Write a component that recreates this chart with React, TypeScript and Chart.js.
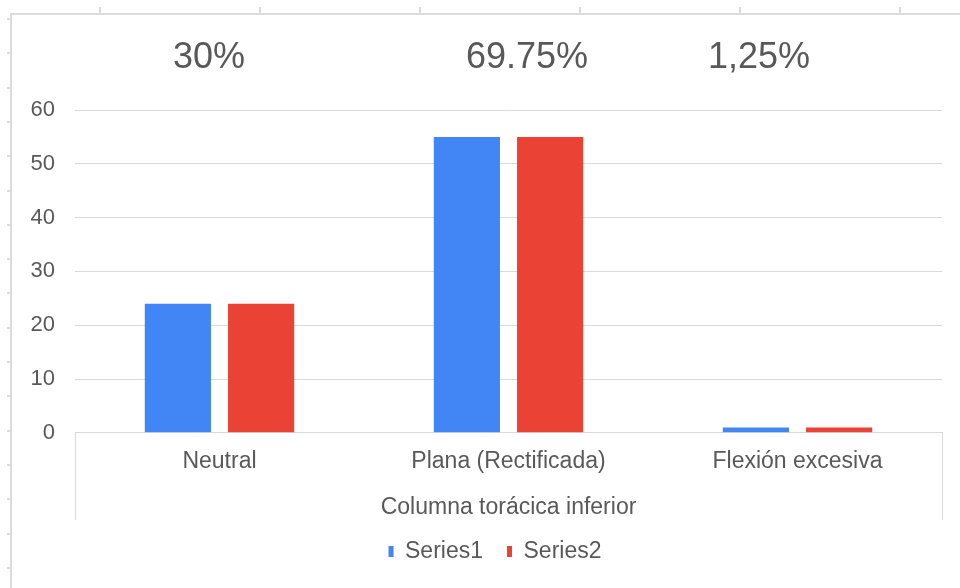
import React, { useEffect, useRef } from "react";
import { Chart, registerables } from "chart.js";

Chart.register(...registerables);

const categories = ["Neutral", "Plana (Rectificada)", "Flexión excesiva"];
const series1 = [24, 55, 1];
const series2 = [24, 55, 1];
const seriesNames = ["Series1", "Series2"];
const seriesColors = ["#4285F4", "#EA4335"];
const axisTitle = "Columna torácica inferior";
const topLabels = ["30%", "69.75%", "1,25%"];
const topLabelCenters = [209, 527, 759];

const FONT = "'Liberation Sans', Arial, Helvetica, sans-serif";
const TEXT = "#595959";
const GRID = "#d9d9d9";

const outerLines = {
  id: "outerLines",
  afterLayout(chart: any) {
    if (chart.legend) {
      chart.legend.left += 10;
      chart.legend.right += 10;
    }
  },
  afterDraw(chart: any) {
    const { ctx, chartArea } = chart;
    const xs = chart.scales.x;
    ctx.save();
    ctx.strokeStyle = GRID;
    ctx.lineWidth = 1;
    ctx.beginPath();
    for (const x of [chartArea.left, chartArea.right]) {
      ctx.moveTo(Math.round(x) + 0.5, chartArea.bottom);
      ctx.lineTo(Math.round(x) + 0.5, xs.bottom + 4);
    }
    ctx.stroke();
    ctx.restore();
  },
};

export default function App() {
  const ref = useRef<HTMLCanvasElement>(null);

  useEffect(() => {
    if (!ref.current) return;
    const chart = new Chart(ref.current, {
      type: "bar",
      data: {
        labels: categories,
        datasets: [
          { label: seriesNames[0], data: series1, backgroundColor: seriesColors[0] },
          { label: seriesNames[1], data: series2, backgroundColor: seriesColors[1] },
        ],
      },
      options: {
        animation: false,
        responsive: false,
        maintainAspectRatio: false,
        devicePixelRatio: 1,
        layout: { padding: { top: 110, left: 28, right: 18, bottom: 15 } },
        datasets: {
          bar: { categoryPercentage: 0.576, barPercentage: 0.795 },
        },
        plugins: {
          legend: {
            position: "bottom",
            labels: {
              boxWidth: 5,
              boxHeight: 11,
              padding: 24,
              color: TEXT,
              font: { family: FONT, size: 23 },
            },
          },
          tooltip: { enabled: false },
          title: { display: false },
        },
        scales: {
          x: {
            grid: { display: false, drawTicks: false },
            border: { display: true, color: GRID, width: 1 },
            ticks: { color: TEXT, padding: 15, font: { family: FONT, size: 23 } },
            title: {
              display: true,
              text: axisTitle,
              color: TEXT,
              font: { family: FONT, size: 23 },
              padding: { top: 3, bottom: -5 },
            },
          },
          y: {
            min: 0,
            max: 60,
            ticks: { stepSize: 10, color: TEXT, padding: 20, font: { family: FONT, size: 22 } },
            grid: { color: GRID, drawTicks: false, lineWidth: 1 },
            border: { display: false },
            afterFit(scale: any) {
              scale.width = 47;
            },
          },
        },
      },
      plugins: [outerLines],
    });
    return () => chart.destroy();
  }, []);

  const leftTicks: number[] = [];
  for (let y = 18; y < 588; y += 34.3) leftTicks.push(Math.round(y));
  const topTicks = [99, 259, 419, 579, 739, 899];

  return (
    <div
      style={{
        position: "fixed",
        left: 0,
        top: 0,
        width: 960,
        height: 588,
        background: "#ffffff",
        overflow: "hidden",
        fontFamily: FONT,
      }}
    >
      <div style={{ position: "absolute", left: 10, top: 13, width: 2, height: 575, background: "#dcdcdc" }} />
      <div style={{ position: "absolute", left: 10, top: 13, width: 950, height: 2, background: "#dcdcdc" }} />
      {topTicks.map((x) => (
        <div key={"t" + x} style={{ position: "absolute", left: x, top: 7, width: 2, height: 7, background: "#dcdcdc" }} />
      ))}
      {leftTicks.map((y) => (
        <div key={"l" + y} style={{ position: "absolute", left: 7, top: y, width: 4, height: 2, background: "#dcdcdc" }} />
      ))}
      <canvas ref={ref} width={960} height={588} style={{ position: "absolute", left: 0, top: 0, width: 960, height: 588 }} />
      {topLabels.map((t, i) => (
        <div
          key={t}
          style={{
            position: "absolute",
            left: topLabelCenters[i] - 100,
            width: 200,
            top: 34,
            textAlign: "center",
            fontSize: 36,
            lineHeight: "44px",
            color: TEXT,
          }}
        >
          {t}
        </div>
      ))}
    </div>
  );
}
